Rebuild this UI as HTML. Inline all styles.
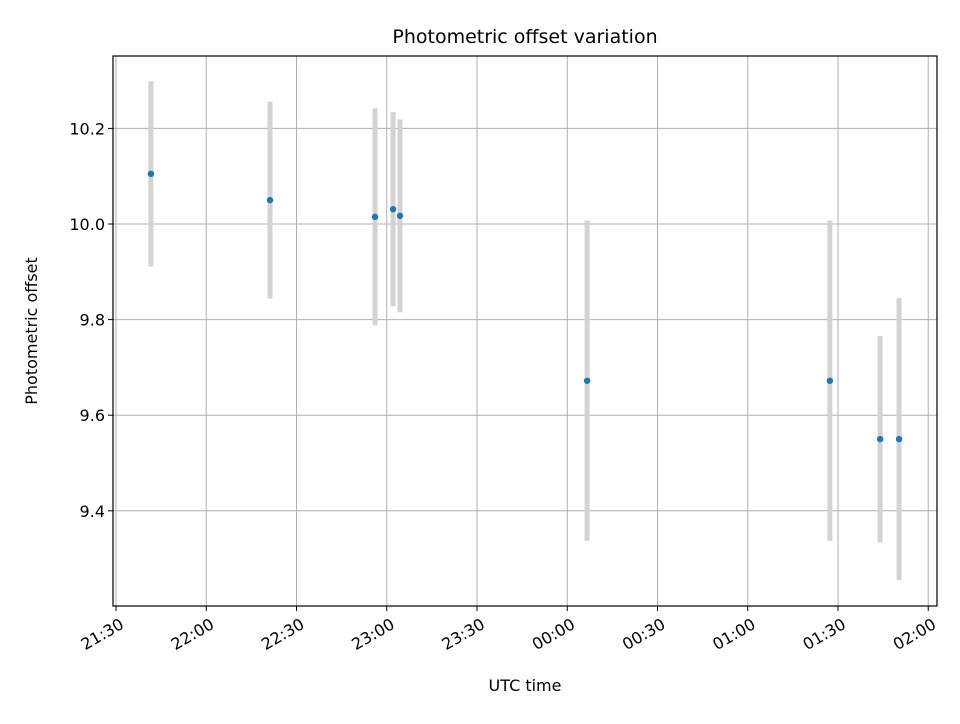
<!DOCTYPE html>
<html><head><meta charset="utf-8"><style>
body{margin:0;background:#fff;font-family:"DejaVu Sans","Liberation Sans",sans-serif}
</style></head><body>
<svg id="chart" width="960" height="720" xmlns="http://www.w3.org/2000/svg" font-family="DejaVu Sans, Liberation Sans, sans-serif">
<rect width="960" height="720" fill="#fff"/>
<text x="525" y="43" font-size="19" text-anchor="middle">Photometric offset variation</text>
<text x="525" y="691" font-size="16" text-anchor="middle">UTC time</text>
<text transform="translate(37,331) rotate(-90)" font-size="16" text-anchor="middle">Photometric offset</text>
<g id="grid"></g><g id="bars"></g><g id="pts"></g><g id="ticks"></g>
<rect x="113" y="56" width="824" height="550" fill="none" stroke="#000" stroke-width="1.2"/>
</svg>
<script>
// minutes after 21:30 UTC
const times = [11.6, 51.2, 86.1, 92.1, 94.4, 156.6, 237.3, 254.0, 260.3];
const offsets = [10.105, 10.05, 10.015, 10.031, 10.017, 9.672, 9.672, 9.55, 9.55];
const errors = [0.194, 0.206, 0.227, 0.203, 0.202, 0.335, 0.335, 0.216, 0.295];
const xTickLabels = ["21:30","22:00","22:30","23:00","23:30","00:00","00:30","01:00","01:30","02:00"];
const xTickMinutes = [0,30,60,90,120,150,180,210,240,270];
const yTickValues = [9.4, 9.6, 9.8, 10.0, 10.2];

const NS="http://www.w3.org/2000/svg";
const L=113,R=937,T=56,B=606;
const xs=m=>116+m*3.0083;
const ys=v=>224-(v-10.0)*478;
function mk(tag,attrs,parent,text){const e=document.createElementNS(NS,tag);for(const k in attrs)e.setAttribute(k,attrs[k]);if(text!==undefined)e.textContent=text;document.getElementById(parent).appendChild(e);return e;}

xTickMinutes.forEach((m,i)=>{
  const x=xs(m);
  const g=mk('line',{x1:x,x2:x,y1:T,y2:B,stroke:'#b0b0b0','stroke-width':1},'grid');
  
  
  mk('line',{x1:x,x2:x,y1:B,y2:B+5,stroke:'#000'},'ticks');
  const ax=x+3, ay=B+11;
  const t=mk('text',{x:ax,y:ay,'font-size':16,'text-anchor':'end','dominant-baseline':'hanging',transform:`rotate(-30 ${ax} ${ay})`},'ticks',xTickLabels[i]);
  
  
});
yTickValues.forEach(v=>{
  const y=ys(v);
  const g=mk('line',{x1:L,x2:R,y1:y,y2:y,stroke:'#b0b0b0','stroke-width':1},'grid');
  
  
  mk('line',{x1:L-5,x2:L,y1:y,y2:y,stroke:'#000'},'ticks');
  const t=mk('text',{x:L-8,y:y+6,'font-size':16,'text-anchor':'end'},'ticks',v.toFixed(1));
  
  
});
times.forEach((m,i)=>{
  const x=xs(m);
  const b=mk('line',{x1:x,x2:x,y1:ys(offsets[i]+errors[i]),y2:ys(offsets[i]-errors[i]),stroke:'#d3d3d3','stroke-width':5},'bars');
  
  
  const p=mk('circle',{cx:x,cy:ys(offsets[i]),r:3.2,fill:'#1f77b4'},'pts');
  
  
});
</script>
</body></html>
